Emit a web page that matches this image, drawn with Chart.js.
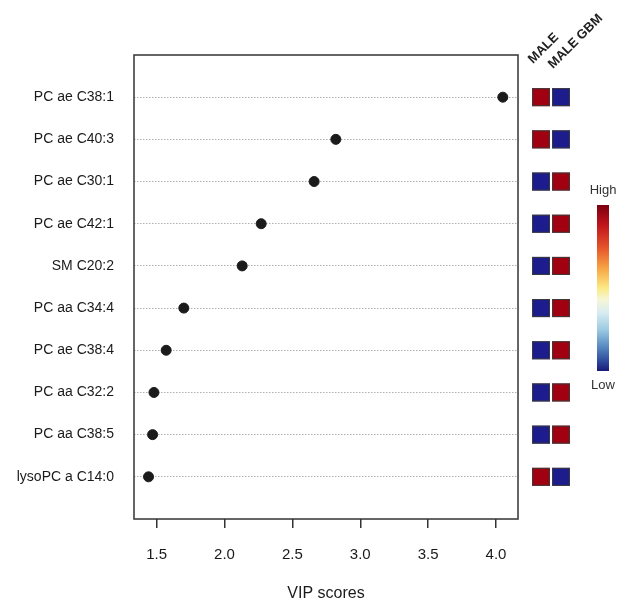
<!DOCTYPE html>
<html>
<head>
<meta charset="utf-8">
<script src="https://cdn.jsdelivr.net/npm/chart.js@4/dist/chart.umd.min.js"></script>
<style>
  html, body { margin: 0; padding: 0; background: #fff; }
  #wrap { width: 624px; height: 603px; }
</style>
</head>
<body>
<div id="wrap"><canvas id="vipChart"></canvas></div>
<script>
// features, top to bottom
const features = ['PC ae C38:1', 'PC ae C40:3', 'PC ae C30:1', 'PC ae C42:1', 'SM C20:2',
                  'PC aa C34:4', 'PC ae C38:4', 'PC aa C32:2', 'PC aa C38:5', 'lysoPC a C14:0'];
const vipScores = [4.05, 2.82, 2.66, 2.27, 2.13, 1.70, 1.57, 1.48, 1.47, 1.44];
const xTicks = [1.5, 2.0, 2.5, 3.0, 3.5, 4.0];
// heatmap columns: 1 = high, 0 = low
const groups = ['MALE', 'MALE GBM'];
const maleLevel = [1, 1, 0, 0, 0, 0, 0, 0, 0, 1];
const gbmLevel  = [0, 0, 1, 1, 1, 1, 1, 1, 1, 0];

const font = '"Liberation Sans", Arial, sans-serif';
const HIGH = '#a0000f';
const LOW = '#1c1c8c';

const dots = vipScores.map((v, i) => ({ x: v, y: i + 1 }));

// frame box, heatmap cells, column headers and colour key
const extras = {
    id: 'extras',
    afterDraw(chart) {
        const ctx = chart.ctx;
        const a = chart.chartArea;
        const y = chart.scales.y;
        ctx.save();
        ctx.strokeStyle = '#333';
        ctx.lineWidth = 1.5;
        ctx.strokeRect(a.left, a.top, a.right - a.left, a.bottom - a.top);

        // heatmap next to the plot, rows follow the y scale
        const colX = [a.right + 23, a.right + 43];
        const cell = 18;
        [maleLevel, gbmLevel].forEach((col, c) => {
            col.forEach((lv, i) => {
                const cy = y.getPixelForValue(i + 1);
                ctx.fillStyle = lv ? HIGH : LOW;
                ctx.fillRect(colX[c] - cell / 2, cy - cell / 2, cell, cell);
                ctx.strokeStyle = '#3a3a3a';
                ctx.lineWidth = 1;
                ctx.strokeRect(colX[c] - cell / 2 + 0.5, cy - cell / 2 + 0.5, cell - 1, cell - 1);
            });
        });

        // rotated group names
        const headY = [64, 69];
        ctx.fillStyle = '#222';
        ctx.font = 'bold 13px ' + font;
        ctx.textAlign = 'left';
        ctx.textBaseline = 'alphabetic';
        groups.forEach((g, c) => {
            ctx.save();
            ctx.translate(colX[c] - 8, headY[c]);
            ctx.rotate(-Math.PI / 4);
            ctx.fillText(g, 0, 0);
            ctx.restore();
        });

        // colour bar
        const bx = 597, by = 205, bw = 12, bh = 166;
        const grad = ctx.createLinearGradient(0, by, 0, by + bh);
        grad.addColorStop(0, '#7c0010');
        grad.addColorStop(0.12, '#c0141c');
        grad.addColorStop(0.26, '#e6552b');
        grad.addColorStop(0.38, '#f7a443');
        grad.addColorStop(0.5, '#fbea84');
        grad.addColorStop(0.57, '#f6f6d6');
        grad.addColorStop(0.65, '#d8ecf2');
        grad.addColorStop(0.75, '#9ccbe1');
        grad.addColorStop(0.85, '#5a8cc2');
        grad.addColorStop(0.94, '#2e4a9c');
        grad.addColorStop(1, '#1a1a78');
        ctx.fillStyle = grad;
        ctx.fillRect(bx, by, bw, bh);
        ctx.fillStyle = '#333';
        ctx.font = '13px ' + font;
        ctx.textAlign = 'center';
        ctx.textBaseline = 'middle';
        ctx.fillText('High', bx + bw / 2, 190);
        ctx.fillText('Low', bx + bw / 2, 385);
        ctx.restore();
    }
};

new Chart(document.getElementById('vipChart'), {
    type: 'scatter',
    data: {
        datasets: [{
            label: 'VIP',
            data: dots,
            backgroundColor: '#1b1b1b',
            borderColor: '#1b1b1b',
            pointRadius: 5,
            pointHoverRadius: 5
        }]
    },
    options: {
        responsive: true,
        maintainAspectRatio: false,
        animation: false,
        layout: { padding: { top: 55, right: 106, left: 0, bottom: 0 } },
        plugins: {
            legend: { display: false },
            tooltip: { enabled: false }
        },
        scales: {
            x: {
                type: 'linear',
                min: 1.333,
                max: 4.162,
                afterBuildTicks: axis => { axis.ticks = xTicks.map(v => ({ value: v })); },
                afterFit: axis => { axis.height = 84; },
                grid: { drawOnChartArea: false, drawTicks: true, tickLength: 9, tickColor: '#333', lineWidth: 1.5 },
                border: { display: false },
                ticks: {
                    color: '#1a1a1a',
                    padding: 18,
                    font: { family: font, size: 15 },
                    callback: v => v.toFixed(1)
                },
                title: {
                    display: true,
                    text: 'VIP scores',
                    color: '#1a1a1a',
                    font: { family: font, size: 16 },
                    padding: { top: 0, bottom: 0 }
                }
            },
            y: {
                type: 'linear',
                reverse: true,
                min: 0,
                max: 11,
                afterBuildTicks: axis => { axis.ticks = features.map((f, i) => ({ value: i + 1 })); },
                afterFit: axis => { axis.width = 134; },
                grid: { color: '#b0b0b0', lineWidth: 1, drawTicks: false },
                border: { display: false, dash: [1.5, 1.5] },
                ticks: {
                    color: '#1a1a1a',
                    padding: 20,
                    font: { family: font, size: 14 },
                    callback: v => features[v - 1]
                }
            }
        }
    },
    plugins: [extras]
});
</script>
</body>
</html>
